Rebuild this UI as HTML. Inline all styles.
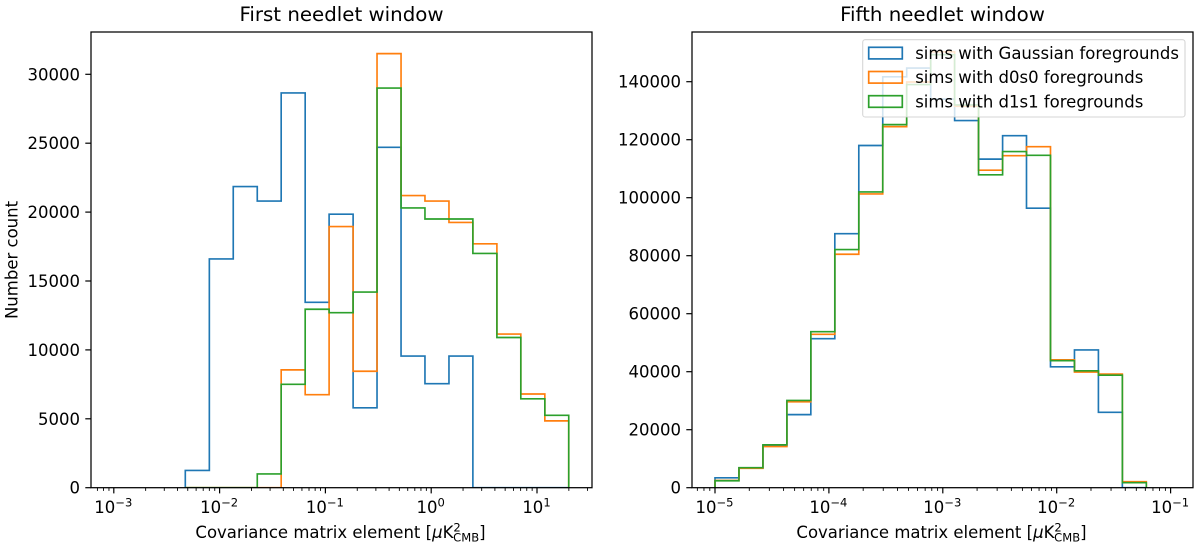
<!DOCTYPE html>
<html>
<head>
<meta charset="utf-8">
<title>Needlet window histograms</title>
<style>
html,body{margin:0;padding:0;background:#fff;width:1200px;height:546px;overflow:hidden}
svg{display:block}
text{font-family:"DejaVu Sans","Liberation Sans",sans-serif;fill:#000}
</style>
</head>
<body>
<svg id="fig" width="1200" height="546" viewBox="0 0 1200 546" xmlns="http://www.w3.org/2000/svg"></svg>
<script>
const seriesNames = ['sims with Gaussian foregrounds', 'sims with d0s0 foregrounds', 'sims with d1s1 foregrounds'];
const seriesKeys = ['gaussian', 'd0s0', 'd1s1'];
const seriesColors = ['#1f77b4', '#ff7f0e', '#2ca02c'];

const firstBinEdges = [0.00474, 0.0080, 0.01346, 0.0227, 0.0382, 0.0644, 0.1084, 0.1828, 0.3076, 0.5188, 0.873, 1.472, 2.477, 4.178, 7.03, 11.86, 19.95];
const firstGaussian = [1250, 16600, 21850, 20800, 28650, 13450, 19850, 5800, 24700, 9550, 7550, 9550, 0, 0, 0, 0];
const firstD0s0 = [0, 0, 0, 0, 8550, 6750, 18950, 8450, 31500, 21200, 20800, 19250, 17700, 11150, 6800, 4850];
const firstD1s1 = [0, 0, 0, 1000, 7500, 12950, 12700, 14200, 29000, 20300, 19500, 19500, 17000, 10900, 6450, 5250];
const firstYTicks = [0, 5000, 10000, 15000, 20000, 25000, 30000];
const firstXExponents = [-3, -2, -1, 0, 1];

const fifthBinEdges = [1e-5, 1.623e-5, 2.635e-5, 4.277e-5, 6.94e-5, 1.127e-4, 1.83e-4, 2.97e-4, 4.82e-4, 7.83e-4, 1.27e-3, 2.06e-3, 3.35e-3, 5.43e-3, 8.82e-3, 1.432e-2, 2.324e-2, 3.77e-2, 6.12e-2];
const fifthGaussian = [3400, 6800, 14500, 25200, 51400, 87600, 118000, 141700, 144700, 134000, 126600, 113300, 121400, 96400, 41700, 47500, 26000, 0];
const fifthD0s0 = [2500, 6700, 14200, 29600, 52900, 80500, 101300, 124500, 139900, 150300, 131500, 109500, 114500, 117600, 44100, 39900, 39200, 2070];
const fifthD1s1 = [2400, 6900, 14800, 30100, 53800, 82100, 102000, 125200, 139000, 149300, 132000, 107900, 115900, 114600, 43800, 40300, 38800, 1720];
const fifthYTicks = [0, 20000, 40000, 60000, 80000, 100000, 120000, 140000];
const fifthXExponents = [-5, -4, -3, -2, -1];

const NS = 'http://www.w3.org/2000/svg';
const fig = document.getElementById('fig');
const FS = 16.5;

function mk(tag, attrs, parent) {
  const e = document.createElementNS(NS, tag);
  for (const k in attrs) e.setAttribute(k, attrs[k]);
  (parent || fig).appendChild(e);
  return e;
}

function makeAxes(box, x0Log, x0Px, decadePx, yPerUnit) {
  return {
    box: box,
    x: function (v) { return x0Px + (Math.log10(v) - x0Log) * decadePx; },
    y: function (v) { return box.bottom - v * yPerUnit; }
  };
}

function drawXTickLabel(group, px, exp) {
  const t = mk('text', {x: px - 0.5, y: 513, 'text-anchor': 'middle', 'font-size': FS}, group);
  
  
  const base = document.createElementNS(NS, 'tspan');
  base.textContent = '10';
  t.appendChild(base);
  const sup = document.createElementNS(NS, 'tspan');
  sup.setAttribute('dy', '-6.7');
  sup.setAttribute('font-size', FS * 0.7);
  sup.textContent = (exp < 0 ? '\u2212' + Math.abs(exp) : String(exp));
  t.appendChild(sup);
}

function drawXLabel(group, cx) {
  const t = mk('text', {x: cx, y: 538, 'text-anchor': 'middle', 'font-size': FS}, group);
  
  
  const a = document.createElementNS(NS, 'tspan');
  a.textContent = 'Covariance matrix element [';
  t.appendChild(a);
  const mu = document.createElementNS(NS, 'tspan');
  mu.setAttribute('font-style', 'italic');
  mu.textContent = '\u03bc';
  t.appendChild(mu);
  const k = document.createElementNS(NS, 'tspan');
  k.textContent = 'K';
  t.appendChild(k);
  const sup = document.createElementNS(NS, 'tspan');
  sup.setAttribute('font-size', FS * 0.7);
  sup.setAttribute('dy', '-6.7');
  sup.textContent = '2';
  t.appendChild(sup);
  const sub = document.createElementNS(NS, 'tspan');
  sub.setAttribute('font-size', FS * 0.7);
  sub.setAttribute('dy', '10');
  sub.setAttribute('dx', '-7.6');
  sub.textContent = 'CMB';
  t.appendChild(sub);
  const close = document.createElementNS(NS, 'tspan');
  close.setAttribute('dy', '-3.3');
  close.textContent = ']';
  t.appendChild(close);
}

function drawPanel(name, title, ax, edges, seriesList, yTicks, xExps, clipId) {
  const b = ax.box;
  const g = mk('g', {});
  
  

  const clip = mk('clipPath', {id: clipId}, g);
  mk('rect', {x: b.left, y: b.top, width: b.right - b.left, height: b.bottom - b.top}, clip);

  const tt = mk('text', {x: (b.left + b.right) / 2, y: 21, 'text-anchor': 'middle', 'font-size': FS * 1.2}, g);
  
  
  tt.textContent = title;

  const marks = mk('g', {'clip-path': 'url(#' + clipId + ')'}, g);
  seriesList.forEach(function (vals, s) {
    const pts = [];
    pts.push(ax.x(edges[0]) + ',' + ax.y(0));
    vals.forEach(function (v, i) {
      pts.push(ax.x(edges[i]) + ',' + ax.y(v));
      pts.push(ax.x(edges[i + 1]) + ',' + ax.y(v));
    });
    pts.push(ax.x(edges[vals.length]) + ',' + ax.y(0));
    const p = mk('polyline', {points: pts.join(' '), fill: 'none', stroke: seriesColors[s], 'stroke-width': 1.65, 'stroke-linejoin': 'miter'}, marks);
    
    
  });

  yTicks.forEach(function (v) {
    const py = ax.y(v);
    const tick = mk('line', {x1: b.left - 5.7, x2: b.left, y1: py, y2: py, stroke: '#000', 'stroke-width': 1.2}, g);
    
    
    const t = mk('text', {x: b.left - 11, y: py + 6, 'text-anchor': 'end', 'font-size': FS}, g);
    
    
    t.textContent = String(v);
  });

  const firstExp = xExps[0] - 1;
  const lastExp = xExps[xExps.length - 1];
  for (let e = firstExp; e <= lastExp; e++) {
    for (let m = 2; m <= 9; m++) {
      const px = ax.x(m * Math.pow(10, e));
      if (px < b.left || px > b.right) continue;
      const mt = mk('line', {x1: px, x2: px, y1: b.bottom, y2: b.bottom + 3.2, stroke: '#000', 'stroke-width': 0.9}, g);
      
      
    }
  }
  xExps.forEach(function (e) {
    const px = ax.x(Math.pow(10, e));
    const tick = mk('line', {x1: px, x2: px, y1: b.bottom, y2: b.bottom + 5.7, stroke: '#000', 'stroke-width': 1.2}, g);
    
    
    drawXTickLabel(g, px, e);
  });

  drawXLabel(g, (b.left + b.right) / 2 - 1);

  return g;
}

function drawFrame(g, b, name) {
  const r = mk('rect', {x: b.left, y: b.top, width: b.right - b.left, height: b.bottom - b.top, fill: 'none', stroke: '#000', 'stroke-width': 1.25}, g);
  
  
}

function drawLegend(g) {
  const lg = mk('g', {}, g);
  
  
  const box = mk('rect', {x: 862.7, y: 39.7, width: 322.3, height: 77.3, rx: 2.5, ry: 2.5, fill: '#fff', 'fill-opacity': 0.8, stroke: '#ccc', 'stroke-opacity': 0.8, 'stroke-width': 1.1}, lg);
  
  
  const rowStep = 24.2;
  seriesNames.forEach(function (label, i) {
    const sw = mk('rect', {x: 868.7, y: 47.3 + i * rowStep, width: 33.6, height: 11.6, fill: 'none', stroke: seriesColors[i], 'stroke-width': 1.7}, lg);
    
    
    const t = mk('text', {x: 915.2, y: 59 + i * rowStep, 'font-size': FS}, lg);
    
    
    t.textContent = label;
  });
}

const leftAxes = makeAxes({left: 91, right: 592, top: 32, bottom: 487.7}, -3, 113.8, 105.8, 0.01378);
const rightAxes = makeAxes({left: 692, right: 1193, top: 32, bottom: 487.7}, -5, 715, 113.9, 0.0029);

const leftG = drawPanel('first-window', 'First needlet window', leftAxes, firstBinEdges, [firstGaussian, firstD0s0, firstD1s1], firstYTicks, firstXExponents, 'clip-left');
drawFrame(leftG, leftAxes.box, 'first-window');

const rightG = drawPanel('fifth-window', 'Fifth needlet window', rightAxes, fifthBinEdges, [fifthGaussian, fifthD0s0, fifthD1s1], fifthYTicks, fifthXExponents, 'clip-right');
drawLegend(rightG);
drawFrame(rightG, rightAxes.box, 'fifth-window');

const yTitle = mk('text', {x: 0, y: 0, 'text-anchor': 'middle', 'font-size': FS, transform: 'translate(17.5 260) rotate(-90)'});


yTitle.textContent = 'Number count';
</script>
</body>
</html>
